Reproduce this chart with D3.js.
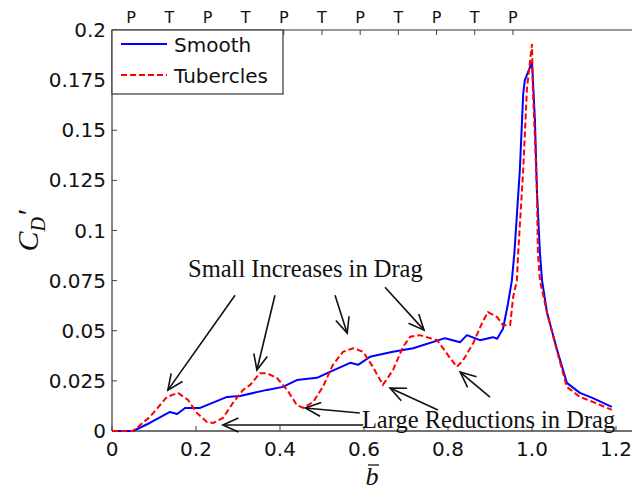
<!DOCTYPE html>
<html>
<head>
<meta charset="utf-8">
<script src="https://cdn.jsdelivr.net/npm/d3@7"></script>
<style>
  body { margin: 0; background: #fff; }
  svg { display: block; }
  .tick-lbl { font-family: "DejaVu Sans", Arial, sans-serif; font-size: 20px; fill: #111; }
  .note { font-family: "Liberation Serif", "Times New Roman", serif; font-size: 24.5px; fill: #111; }
</style>
</head>
<body>
<svg id="chart" width="632" height="493"></svg>
<script>
// smooth leading edge
var smoothB = [0, 0.05, 0.09, 0.138, 0.155, 0.174, 0.21, 0.274, 0.305, 0.369, 0.407, 0.44, 0.488, 0.519,
  0.567, 0.586, 0.614, 0.669, 0.717, 0.793, 0.829, 0.845, 0.876, 0.907, 0.917, 0.931, 0.943, 0.952,
  0.958, 0.971, 0.979, 0.983, 1.0, 1.007, 1.012, 1.019, 1.024, 1.036, 1.06, 1.083, 1.114, 1.145, 1.19];
var smoothCd = [0, 0, 0.004, 0.0095, 0.0085, 0.0115, 0.0115, 0.017, 0.0175, 0.0205, 0.022, 0.0254, 0.0265, 0.0295,
  0.034, 0.033, 0.037, 0.0395, 0.0413, 0.0463, 0.0443, 0.0478, 0.0453, 0.0468, 0.046, 0.051, 0.0637, 0.075,
  0.0886, 0.13, 0.168, 0.175, 0.184, 0.155, 0.1185, 0.0886, 0.075, 0.0588, 0.0403, 0.024, 0.019, 0.0164, 0.012];

// tubercles
var tubB = [0, 0.05, 0.09, 0.131, 0.157, 0.181, 0.202, 0.226, 0.241, 0.264, 0.288, 0.312, 0.329, 0.352, 0.369,
  0.393, 0.417, 0.44, 0.455, 0.479, 0.502, 0.526, 0.55, 0.574, 0.598, 0.621, 0.645, 0.669, 0.693, 0.71, 0.733,
  0.774, 0.805, 0.821, 0.836, 0.86, 0.881, 0.895, 0.917, 0.931, 0.948, 0.955, 0.964, 0.967, 0.979, 0.988, 1.0,
  1.002, 1.007, 1.012, 1.014, 1.019, 1.036, 1.06, 1.083, 1.114, 1.145, 1.19];
var tubCd = [0, 0, 0.007, 0.017, 0.019, 0.0155, 0.009, 0.0045, 0.004, 0.0065, 0.014, 0.0205, 0.023, 0.0288, 0.0288,
  0.0264, 0.0205, 0.013, 0.0115, 0.0145, 0.022, 0.033, 0.0395, 0.0413, 0.0395, 0.032, 0.023, 0.0304, 0.042, 0.047, 0.0478,
  0.0453, 0.0364, 0.032, 0.0353, 0.0438, 0.0538, 0.0593, 0.0568, 0.0528, 0.0528, 0.0667, 0.075, 0.0886, 0.13, 0.171, 0.193,
  0.171, 0.146, 0.118, 0.0886, 0.075, 0.0588, 0.0395, 0.022, 0.017, 0.0145, 0.0105];

var xTicks = [0, 0.2, 0.4, 0.6, 0.8, 1.0, 1.2];
var xTickLabels = ['0', '0.2', '0.4', '0.6', '0.8', '1.0', '1.2'];
var yTicks = [0, 0.025, 0.05, 0.075, 0.1, 0.125, 0.15, 0.175, 0.2];
var yTickLabels = ['0', '0.025', '0.05', '0.075', '0.1', '0.125', '0.15', '0.175', '0.2'];
// peak / trough markers along the top
var topLabels = ['P', 'T', 'P', 'T', 'P', 'T', 'P', 'T', 'P', 'T', 'P'];
var topTicks = topLabels.map(function(d, i) { return (2 * i + 1) / 22; });

// arrows [fromB, fromCd, toB, toCd]
var increaseArrows = [[0.293, 0.0677, 0.133, 0.0204], [0.388, 0.0677, 0.345, 0.0304],
  [0.531, 0.0677, 0.560, 0.0488], [0.650, 0.0717, 0.743, 0.0503]];
var reductionArrows = [[0.598, 0.003, 0.264, 0.003], [0.590, 0.009, 0.460, 0.0115],
  [0.776, 0.0105, 0.662, 0.0214], [0.900, 0.0169, 0.829, 0.0294]];

var plotLeft = 112, plotTop = 30, plotBottom = 431, rightEdge = 632;
var x = d3.scaleLinear().domain([0, 1.2]).range([plotLeft, plotLeft + 504]);
var y = d3.scaleLinear().domain([0, 0.2]).range([plotBottom, plotTop]);

var svg = d3.select('#chart');
var axisColor = '#444';

// frame lines
svg.append('line').attr('x1', plotLeft).attr('x2', plotLeft).attr('y1', plotTop).attr('y2', plotBottom)
  .attr('stroke', axisColor).attr('stroke-width', 1.3);
svg.append('line').attr('x1', plotLeft).attr('x2', rightEdge).attr('y1', plotBottom).attr('y2', plotBottom)
  .attr('stroke', axisColor).attr('stroke-width', 1.3);
svg.append('line').attr('x1', plotLeft).attr('x2', rightEdge).attr('y1', plotTop).attr('y2', plotTop)
  .attr('stroke', '#777').attr('stroke-width', 1.3);

// y ticks
svg.selectAll('.ytick').data(yTicks).enter().append('line')
  .attr('x1', plotLeft).attr('x2', plotLeft + 5)
  .attr('y1', function(d) { return y(d); }).attr('y2', function(d) { return y(d); })
  .attr('stroke', axisColor);
svg.selectAll('.ylbl').data(yTicks).enter().append('text')
  .attr('class', 'tick-lbl')
  .attr('x', plotLeft - 6).attr('y', function(d) { return y(d) + 7; })
  .attr('text-anchor', 'end')
  .text(function(d, i) { return yTickLabels[i]; });

// x ticks
svg.selectAll('.xtick').data(xTicks).enter().append('line')
  .attr('x1', function(d) { return x(d); }).attr('x2', function(d) { return x(d); })
  .attr('y1', plotBottom).attr('y2', plotBottom - 5)
  .attr('stroke', axisColor);
svg.selectAll('.xlbl').data(xTicks).enter().append('text')
  .attr('class', 'tick-lbl')
  .attr('x', function(d) { return x(d); }).attr('y', 456)
  .attr('text-anchor', 'middle')
  .text(function(d, i) { return xTickLabels[i]; });

// top P/T ticks
svg.selectAll('.ttick').data(topTicks).enter().append('line')
  .attr('x1', function(d) { return x(d); }).attr('x2', function(d) { return x(d); })
  .attr('y1', plotTop).attr('y2', plotTop + 5)
  .attr('stroke', axisColor);
svg.selectAll('.tlbl').data(topTicks).enter().append('text')
  .attr('class', 'tick-lbl')
  .style('font-size', '16px')
  .attr('x', function(d) { return x(d); }).attr('y', 23)
  .attr('text-anchor', 'middle')
  .text(function(d, i) { return topLabels[i]; });

// curves
var line = d3.line()
  .x(function(d) { return x(d[0]); })
  .y(function(d) { return y(d[1]); });

svg.append('path')
  .datum(smoothB.map(function(b, i) { return [b, smoothCd[i]]; }))
  .attr('d', line)
  .attr('fill', 'none').attr('stroke', '#0000ff').attr('stroke-width', 2)
  .attr('stroke-linejoin', 'round');

svg.append('path')
  .datum(tubB.map(function(b, i) { return [b, tubCd[i]]; }))
  .attr('d', line)
  .attr('fill', 'none').attr('stroke', '#ff0000').attr('stroke-width', 2)
  .attr('stroke-dasharray', '6,3');

// arrows
function drawArrow(a) {
  var x1 = x(a[0]), y1 = y(a[1]), x2 = x(a[2]), y2 = y(a[3]);
  var ang = Math.atan2(y2 - y1, x2 - x1);
  var len = 17, spread = 0.42;
  var g = svg.append('g').attr('stroke', '#111').attr('stroke-width', 1.6).attr('fill', 'none');
  g.append('line').attr('x1', x1).attr('y1', y1).attr('x2', x2).attr('y2', y2);
  g.append('path').attr('d', 'M' + (x2 - len * Math.cos(ang - spread)) + ',' + (y2 - len * Math.sin(ang - spread)) +
    'L' + x2 + ',' + y2 +
    'L' + (x2 - len * Math.cos(ang + spread)) + ',' + (y2 - len * Math.sin(ang + spread)));
}
increaseArrows.forEach(drawArrow);
reductionArrows.forEach(drawArrow);

svg.append('text').attr('class', 'note')
  .attr('x', x(0.181)).attr('y', y(0.0767))
  .text('Small Increases in Drag');
svg.append('text').attr('class', 'note')
  .attr('x', x(0.595)).attr('y', y(0.0015))
  .text('Large Reductions in Drag');

// legend
var lg = svg.append('g');
lg.append('rect').attr('x', plotLeft).attr('y', plotTop).attr('width', 171).attr('height', 64)
  .attr('fill', '#fff').attr('stroke', axisColor).attr('stroke-width', 1.3);
lg.append('line').attr('x1', 121).attr('x2', 167).attr('y1', 44).attr('y2', 44)
  .attr('stroke', '#0000ff').attr('stroke-width', 2);
lg.append('line').attr('x1', 121).attr('x2', 167).attr('y1', 75).attr('y2', 75)
  .attr('stroke', '#ff0000').attr('stroke-width', 2).attr('stroke-dasharray', '6,3');
lg.append('text').attr('class', 'tick-lbl').attr('x', 174).attr('y', 52).text('Smooth');
lg.append('text').attr('class', 'tick-lbl').attr('x', 174).attr('y', 83).text('Tubercles');

// axis titles
var yt = svg.append('text')
  .attr('transform', 'translate(38,231) rotate(-90)')
  .attr('text-anchor', 'middle')
  .style('font-family', '"Liberation Serif", "Times New Roman", serif')
  .style('font-style', 'italic').style('font-size', '30px').attr('fill', '#111');
yt.append('tspan').text('C');
yt.append('tspan').attr('dy', 7).style('font-size', '20px').text('D');
yt.append('tspan').attr('dy', -7).text('\u2032');

svg.append('text')
  .attr('x', 372).attr('y', 485)
  .attr('text-anchor', 'middle')
  .style('font-family', '"Liberation Serif", "Times New Roman", serif')
  .style('font-style', 'italic').style('font-size', '26px').attr('fill', '#111')
  .text('b');
svg.append('line').attr('x1', 368).attr('x2', 379).attr('y1', 465).attr('y2', 465)
  .attr('stroke', '#111').attr('stroke-width', 1.3);
</script>
</body>
</html>
